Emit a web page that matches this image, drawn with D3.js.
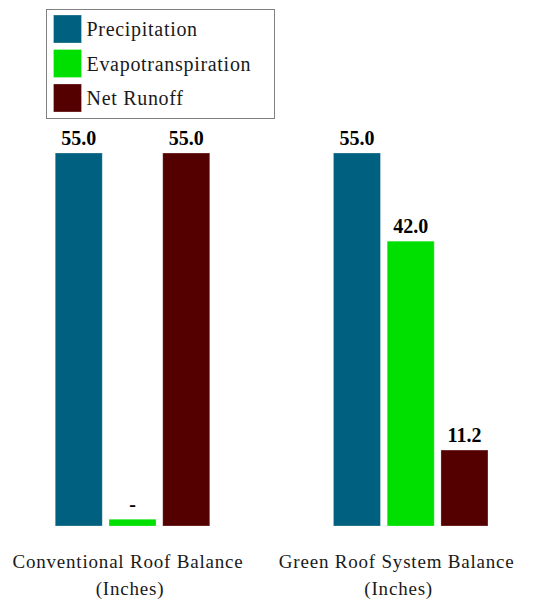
<!DOCTYPE html>
<html>
<head>
<meta charset="utf-8">
<script src="https://cdn.jsdelivr.net/npm/d3@7/dist/d3.min.js"></script>
<style>
  html, body { margin: 0; padding: 0; background: #ffffff; }
  svg { display: block; font-family: "Liberation Serif", "Times New Roman", Times, serif; }
</style>
</head>
<body>
<svg id="chart" width="536" height="605"></svg>
<script>
// Water balance of a roof, in inches per year
const categories = ["Conventional Roof Balance", "Green Roof System Balance"];
const categoryUnits = ["(Inches)", "(Inches)"];
const seriesNames = ["Precipitation", "Evapotranspiration", "Net Runoff"];
const precipitation = [55.0, 55.0];
const evapotranspiration = [1.0, 42.0];
const netRunoff = [55.0, 11.2];
const precipitationLabels = ["55.0", "55.0"];
const evapotranspirationLabels = ["-", "42.0"];
const netRunoffLabels = ["55.0", "11.2"];
const seriesColors = ["#00607f", "#00e000", "#540000"];

const seriesValues = [precipitation, evapotranspiration, netRunoff];
const seriesLabels = [precipitationLabels, evapotranspirationLabels, netRunoffLabels];
const yMax = 55;

// layout
const baseY = 526, topY = 153;
const groupCenters = [132.5, 410.7];
const groupSpan = 161;
const categoryLabelShift = [-4.5, -14];

const svg = d3.select("#chart");

const x0 = d3.scaleOrdinal().domain(categories).range(groupCenters);
const x1 = d3.scaleBand().domain(seriesNames)
  .range([-groupSpan / 2, groupSpan / 2])
  .paddingInner(0.125).paddingOuter(0.06);
const y = d3.scaleLinear().domain([0, yMax]).range([baseY, topY]);

const rows = categories.map((c, ci) => ({
  category: c,
  bars: seriesNames.map((s, si) => ({
    series: s, color: seriesColors[si],
    value: seriesValues[si][ci], label: seriesLabels[si][ci]
  }))
}));

const groups = svg.append("g").selectAll("g")
  .data(rows).join("g")
  .attr("transform", d => `translate(${x0(d.category)},0)`);

groups.selectAll("rect")
  .data(d => d.bars).join("rect")
  .attr("x", d => x1(d.series))
  .attr("width", x1.bandwidth())
  .attr("y", d => y(d.value))
  .attr("height", d => y(0) - y(d.value))
  .attr("fill", d => d.color)
  .attr("stroke", "rgba(255,255,255,0.35)")
  .attr("stroke-width", 0.8);

groups.selectAll("text.value")
  .data(d => d.bars).join("text")
  .attr("class", "value")
  .attr("x", d => x1(d.series) + x1.bandwidth() / 2)
  .attr("y", d => y(d.value) - 8)
  .attr("text-anchor", "middle")
  .attr("font-size", 20)
  .attr("font-weight", "bold")
  .attr("fill", "#000")
  .text(d => d.label);

// category labels below the bars
const catLabels = svg.append("g").selectAll("text")
  .data(categories).join("text")
  .attr("text-anchor", "middle")
  .attr("font-size", 19)
  .attr("letter-spacing", 0.8)
  .attr("fill", "#1a1a1a");
catLabels.append("tspan")
  .attr("x", (d, i) => x0(d) + categoryLabelShift[i])
  .attr("y", 568)
  .text(d => d);
catLabels.append("tspan")
  .attr("x", (d, i) => x0(d) + categoryLabelShift[i] + 2)
  .attr("y", 595)
  .text((d, i) => categoryUnits[i]);

// legend
const legend = svg.append("g").attr("transform", "translate(46.5,9.5)");
legend.append("rect")
  .attr("width", 228).attr("height", 109)
  .attr("fill", "#fff").attr("stroke", "#808080").attr("stroke-width", 1);
const items = legend.selectAll("g.item")
  .data(seriesNames).join("g")
  .attr("class", "item")
  .attr("transform", (d, i) => `translate(7,${5.5 + i * 34.5})`);
items.append("rect")
  .attr("width", 28).attr("height", 28)
  .attr("fill", (d, i) => seriesColors[i])
  .attr("stroke", "rgba(255,255,255,0.35)").attr("stroke-width", 0.8);
items.append("text")
  .attr("x", 33).attr("y", 21)
  .attr("font-size", 20)
  .attr("letter-spacing", 0.7)
  .attr("fill", "#1a1a1a")
  .text(d => d);
</script>
</body>
</html>
